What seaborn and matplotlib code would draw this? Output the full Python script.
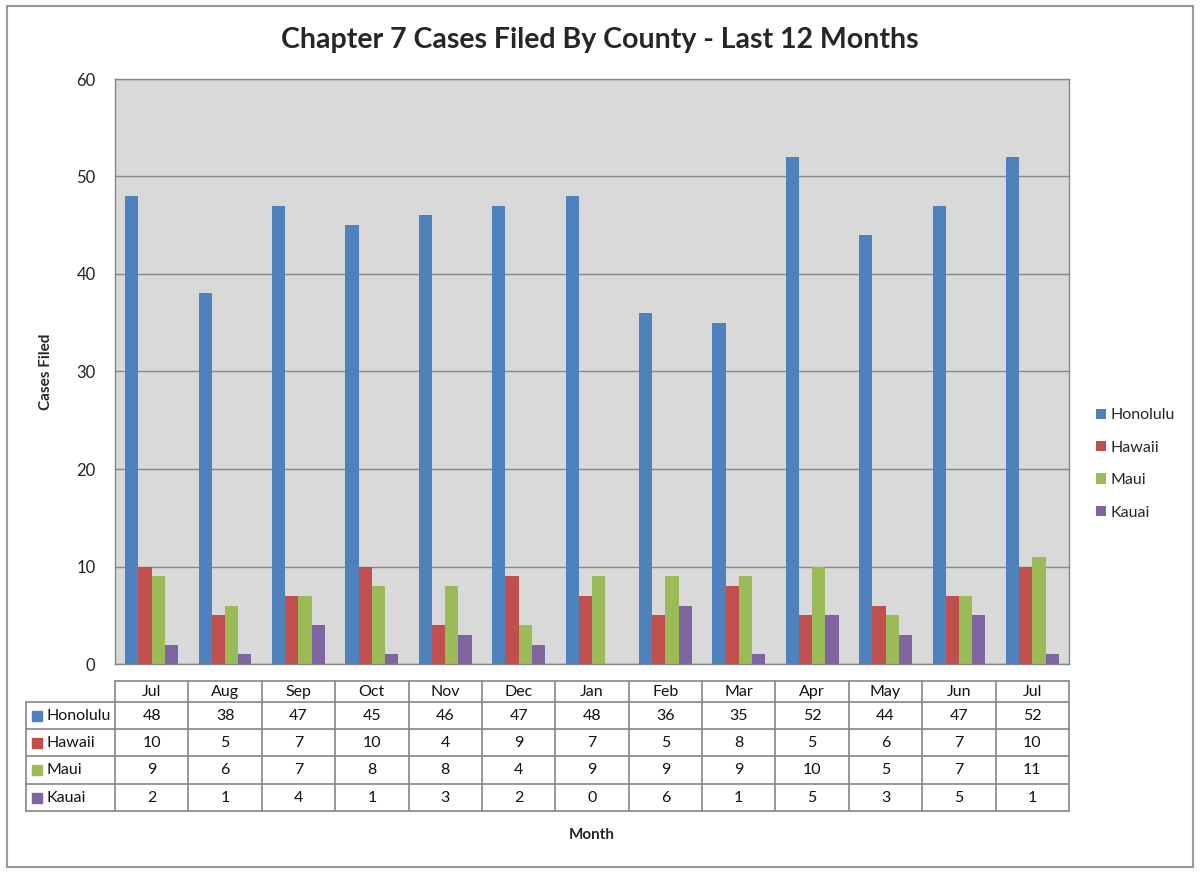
import matplotlib
matplotlib.use("Agg")
import matplotlib.pyplot as plt
import matplotlib.transforms as mtransforms
from matplotlib.patches import Rectangle
import seaborn as sns
import pandas as pd

months = ["Jul", "Aug", "Sep", "Oct", "Nov", "Dec", "Jan", "Feb", "Mar", "Apr", "May", "Jun", "Jul"]
counties = ["Honolulu", "Hawaii", "Maui", "Kauai"]
honolulu = [48, 38, 47, 45, 46, 47, 48, 36, 35, 52, 44, 47, 52]
hawaii = [10, 5, 7, 10, 4, 9, 7, 5, 8, 5, 6, 7, 10]
maui = [9, 6, 7, 8, 8, 4, 9, 9, 9, 10, 5, 7, 11]
kauai = [2, 1, 4, 1, 3, 2, 0, 6, 1, 5, 3, 5, 1]
colors = ["#4F81BD", "#C0504D", "#9BBB59", "#8064A2"]

series = {"Honolulu": honolulu, "Hawaii": hawaii, "Maui": maui, "Kauai": kauai}
rows = []
for c in counties:
    for i, v in enumerate(series[c]):
        rows.append({"idx": i, "County": c, "Cases": v})
df = pd.DataFrame(rows)

sns.set_style("white")
plt.rcParams["font.family"] = ["Lato", "DejaVu Sans"]

W, H = 1200, 872
fig = plt.figure(figsize=(W / 100, H / 100), dpi=100)
L, R, T, B = 115, 1069, 79, 664
ax = fig.add_axes([L / W, 1 - B / H, (R - L) / W, (B - T) / H])
ax.set_facecolor("#D9D9D9")

sns.barplot(data=df, x="idx", y="Cases", hue="County", hue_order=counties,
            palette=colors, width=0.72, ax=ax, saturation=1, legend=True,
            order=list(range(len(months))))
for p in ax.patches:
    p.set_edgecolor("none")

ax.set_ylim(0, 60)
ax.set_xlim(-0.5, len(months) - 0.5)
ax.set_yticks(range(0, 61, 10))
ax.yaxis.grid(True, color="#868686", linewidth=1)
ax.set_axisbelow(True)
ax.set_xticks([])
ax.set_xlabel("")
ax.set_ylabel("Cases Filed", fontsize=11, fontweight="bold", labelpad=17)
ax.tick_params(axis="y", labelsize=12, length=0, pad=14, colors="#222222")
for s in ax.spines.values():
    s.set_color("#868686")
    s.set_linewidth(1)

# legend
handles, labels = ax.get_legend_handles_labels()
leg = ax.legend(handles, labels, loc="center left",
                bbox_to_anchor=(1082 / W, 1 - 464 / H), bbox_transform=fig.transFigure,
                frameon=False, fontsize=11.5, handlelength=0.6, handleheight=0.6,
                handletextpad=0.3, labelspacing=1.15)

# title
fig.text(600 / W, 1 - 40 / H, "Chapter 7 Cases Filed By County - Last 12 Months",
         ha="center", va="center", fontsize=20.5, fontweight="bold")
fig.text(592 / W, 1 - 835 / H, "Month", ha="center", va="center",
         fontsize=11, fontweight="bold")

# data table below axes
trans = mtransforms.blended_transform_factory(ax.transData, ax.transAxes)
colw = (R - L) / len(months)
def px2x(p):
    return (p - L) / colw - 0.5
def py2y(p):
    return (B - p) / (B - T)

row_edges = [681, 702, 729, 756, 784, 811]
ys = [py2y(p) for p in row_edges]
x_left = px2x(26)
x0, x1 = -0.5, len(months) - 0.5
lc, lw = "#868686", 1.2
ax.plot([x0, x1], [ys[0], ys[0]], transform=trans, color=lc, lw=lw, clip_on=False)
for y in ys[1:]:
    ax.plot([x_left, x1], [y, y], transform=trans, color=lc, lw=lw, clip_on=False)
for k in range(len(months) + 1):
    xv = k - 0.5
    ax.plot([xv, xv], [ys[0], ys[-1]], transform=trans, color=lc, lw=lw, clip_on=False)
ax.plot([x_left, x_left], [ys[1], ys[-1]], transform=trans, color=lc, lw=lw, clip_on=False)

tk = dict(transform=trans, ha="center", va="center", fontsize=11.5, color="#111111", clip_on=False)
for i, m in enumerate(months):
    ax.text(i, (ys[0] + ys[1]) / 2, m, **tk)
for r, c in enumerate(counties):
    yc = (ys[r + 1] + ys[r + 2]) / 2
    for i, v in enumerate(series[c]):
        ax.text(i, yc, str(v), **tk)
    ax.text(px2x(46), yc, c, transform=trans, ha="left", va="center",
            fontsize=11.5, color="#111111", clip_on=False)
    ax.plot([px2x(37)], [yc], marker="s", markersize=7, color=colors[r],
            transform=trans, clip_on=False, linestyle="none")

# outer frame
fig.patches.append(Rectangle((7 / W, 1 - 867 / H), 1186 / W, 861 / H,
                             transform=fig.transFigure, fill=False,
                             edgecolor="#999999", linewidth=1.5))

fig.savefig("out.png", dpi=100)
